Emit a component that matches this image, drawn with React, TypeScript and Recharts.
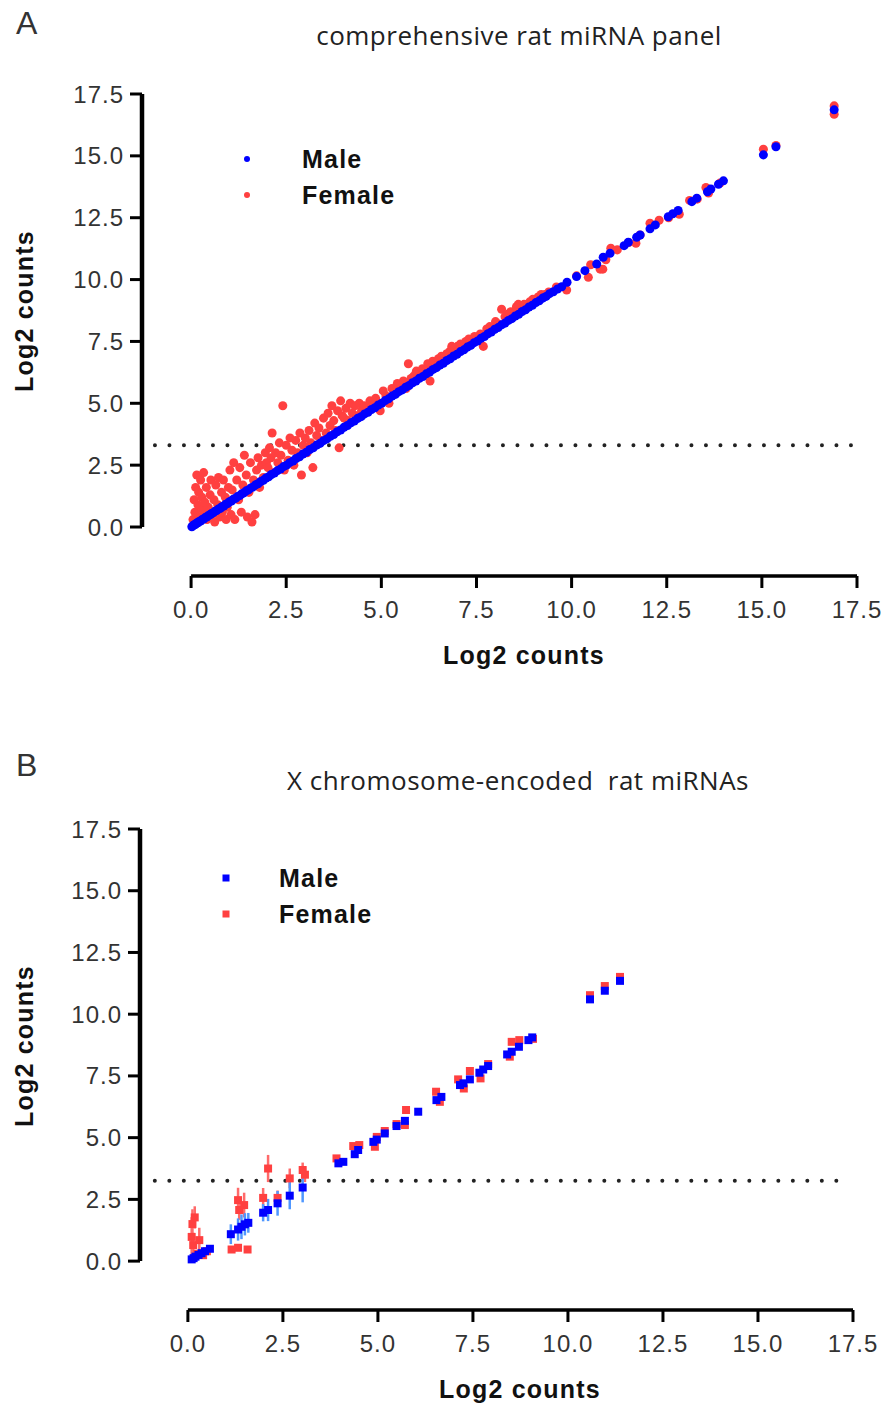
import React from "react";
import { ScatterChart, Scatter, XAxis, YAxis, ZAxis, ReferenceLine, ErrorBar, Legend } from "recharts";

const FONT = "'Liberation Sans', Arial, sans-serif";
const TITLE_FONT = "'Open Sans', 'Noto Sans', sans-serif";
const MALE = "#0000ff";
const FEMALE = "#ff4040";

const axisTicks = [0, 2.5, 5, 7.5, 10, 12.5, 15, 17.5];

// comprehensive panel: [log2 counts (mean), log2 counts (sex)]
const panelAMale: [number, number][] = [
  [0.02, 0.01], [0.05, 0.05], [0.08, 0.09], [0.11, 0.1], [0.14, 0.15], [0.18, 0.17], [0.21, 0.22], [0.25, 0.24],
  [0.29, 0.3], [0.33, 0.32], [0.37, 0.38], [0.41, 0.4], [0.45, 0.46], [0.5, 0.49], [0.54, 0.55], [0.58, 0.57],
  [0.63, 0.64], [0.67, 0.66], [0.72, 0.73], [0.77, 0.76], [0.81, 0.82], [0.86, 0.85], [0.91, 0.92], [0.96, 0.95],
  [1.01, 1.02], [1.06, 1.05], [1.11, 1.12], [1.17, 1.16], [1.22, 1.23], [1.28, 1.27], [1.33, 1.34], [1.39, 1.38],
  [1.45, 1.46], [1.51, 1.5], [1.57, 1.58], [1.63, 1.62], [1.7, 1.71], [1.76, 1.75], [1.83, 1.84], [1.9, 1.89],
  [1.97, 1.98], [2.04, 2.03], [2.11, 2.12], [2.19, 2.18], [2.27, 2.28], [2.35, 2.34], [2.43, 2.44], [2.51, 2.5],
  [2.59, 2.6], [2.68, 2.67], [2.76, 2.77], [2.85, 2.84], [2.94, 2.95], [3.03, 3.02], [3.12, 3.13], [3.21, 3.2],
  [3.3, 3.31], [3.39, 3.38], [3.48, 3.49], [3.57, 3.56], [3.66, 3.67], [3.75, 3.74], [3.84, 3.85], [3.93, 3.92],
  [4.02, 4.03], [4.11, 4.1], [4.2, 4.21], [4.29, 4.28], [4.38, 4.39], [4.47, 4.46], [4.56, 4.57], [4.65, 4.64],
  [4.74, 4.75], [4.83, 4.82], [4.92, 4.93], [5.01, 5.0], [5.1, 5.11], [5.19, 5.18], [5.28, 5.29], [5.37, 5.36],
  [5.46, 5.47], [5.55, 5.54], [5.64, 5.65], [5.73, 5.72], [5.82, 5.83], [5.91, 5.9], [6.0, 6.01], [6.09, 6.08],
  [6.18, 6.19], [6.27, 6.26], [6.36, 6.37], [6.45, 6.44], [6.54, 6.55], [6.63, 6.62], [6.72, 6.73], [6.81, 6.8],
  [6.9, 6.91], [6.99, 6.98], [7.08, 7.09], [7.17, 7.16], [7.26, 7.27], [7.35, 7.34], [7.44, 7.45], [7.53, 7.52],
  [7.62, 7.63], [7.71, 7.7], [7.8, 7.81], [7.89, 7.88], [7.98, 7.99], [8.07, 8.06], [8.16, 8.17], [8.25, 8.24],
  [8.34, 8.35], [8.43, 8.42], [8.52, 8.53], [8.61, 8.6], [8.7, 8.71], [8.79, 8.78], [8.88, 8.89], [8.97, 8.96],
  [9.06, 9.07], [9.15, 9.14], [9.24, 9.25], [9.33, 9.32], [9.42, 9.43], [9.52, 9.51], [9.63, 9.62], [9.74, 9.71],
  [9.88, 9.89], [10.13, 10.12], [10.35, 10.36], [10.66, 10.63], [10.83, 10.9], [11.01, 11.06], [11.38, 11.37],
  [11.49, 11.51], [11.71, 11.71], [11.8, 11.8], [12.06, 12.05], [12.2, 12.21], [12.54, 12.54], [12.66, 12.66],
  [12.8, 12.79], [13.16, 13.15], [13.29, 13.29], [13.57, 13.55], [13.66, 13.66], [13.86, 13.85], [13.99, 13.99],
  [15.04, 15.04], [15.37, 15.37], [16.9, 16.86],
];

const panelAFemale: [number, number][] = [
  [0.05, 0.3], [0.08, 1.1], [0.1, 0.6], [0.12, 1.6], [0.15, 2.1], [0.18, 0.9], [0.2, 1.4], [0.22, 0.4],
  [0.25, 1.9], [0.28, 1.2], [0.3, 0.7], [0.33, 2.2], [0.36, 1.0], [0.4, 1.6], [0.42, 0.3], [0.45, 0.8],
  [0.5, 1.3], [0.52, 1.9], [0.55, 0.5], [0.6, 1.1], [0.62, 0.2], [0.65, 1.7], [0.7, 0.9], [0.72, 2.0],
  [0.75, 0.4], [0.8, 1.4], [0.82, 0.6], [0.85, 1.9], [0.9, 1.2], [0.92, 0.3], [0.95, 0.8], [0.98, 1.6],
  [1.02, 2.3], [1.05, 0.5], [1.08, 1.5], [1.12, 2.6], [1.15, 0.3], [1.2, 1.9], [1.25, 1.1], [1.28, 2.4],
  [1.32, 0.6], [1.36, 1.7], [1.4, 2.9], [1.45, 2.1], [1.48, 0.4], [1.52, 1.4], [1.56, 2.6], [1.6, 0.2],
  [1.64, 1.9], [1.68, 0.5], [1.72, 2.3], [1.76, 2.8], [1.8, 1.6], [1.85, 2.5], [1.9, 2.0], [1.95, 3.0],
  [1.98, 2.6], [2.02, 2.4], [2.06, 3.2], [2.1, 2.8], [2.13, 3.8], [2.18, 2.2], [2.22, 3.0], [2.28, 2.6],
  [2.32, 3.4], [2.36, 2.9], [2.41, 4.9], [2.45, 2.3], [2.5, 3.3], [2.55, 2.7], [2.6, 3.6], [2.65, 3.1],
  [2.7, 2.5], [2.75, 3.5], [2.8, 3.0], [2.86, 3.8], [2.9, 2.1], [2.95, 3.3], [3.0, 3.6], [3.05, 3.0],
  [3.1, 3.9], [3.15, 3.4], [3.2, 2.4], [3.25, 4.2], [3.3, 3.7], [3.36, 4.0], [3.42, 3.5], [3.48, 4.4],
  [3.55, 3.8], [3.6, 4.6], [3.65, 4.1], [3.7, 4.9], [3.75, 4.3], [3.8, 3.9], [3.85, 4.7], [3.89, 3.2],
  [3.93, 5.1], [3.97, 4.5], [4.02, 4.4], [4.07, 4.8], [4.12, 4.3], [4.18, 5.0], [4.24, 4.6], [4.3, 4.9],
  [4.36, 4.5], [4.42, 5.0], [4.48, 4.7], [4.55, 4.9], [4.62, 4.8], [4.7, 5.1], [4.78, 4.9], [4.85, 5.2],
  [4.92, 5.0], [4.97, 4.7], [5.05, 5.5], [5.12, 5.3], [5.2, 5.0], [5.28, 5.6], [5.35, 5.5], [5.42, 5.8],
  [5.5, 5.7], [5.58, 5.9], [5.65, 5.6], [5.71, 6.6], [5.78, 6.0], [5.85, 6.1], [5.92, 6.3], [6.0, 6.2],
  [6.08, 6.4], [6.15, 6.3], [6.22, 6.6], [6.28, 5.9], [6.35, 6.7], [6.42, 6.6], [6.5, 6.8], [6.58, 6.9],
  [6.65, 6.8], [6.72, 7.0], [6.8, 7.1], [6.85, 7.3], [6.92, 7.2], [7.0, 7.3], [7.08, 7.4], [7.15, 7.3],
  [7.22, 7.5], [7.3, 7.6], [7.38, 7.5], [7.45, 7.7], [7.52, 7.6], [7.6, 7.8], [7.68, 7.3], [7.77, 8.0],
  [7.85, 8.1], [7.92, 8.0], [8.0, 8.3], [8.08, 8.2], [8.16, 8.8], [8.25, 8.5], [8.32, 8.6], [8.4, 8.7],
  [8.48, 8.6], [8.55, 8.9], [8.6, 9.0], [8.68, 8.8], [8.75, 9.0], [8.82, 8.9], [8.9, 9.1], [8.98, 9.2],
  [9.05, 9.1], [9.12, 9.3], [9.2, 9.4], [9.3, 9.4], [9.4, 9.5], [9.6, 9.7], [9.87, 9.58], [10.13, 10.15],
  [10.44, 10.09], [10.5, 10.6], [10.75, 10.42], [10.82, 10.42], [10.9, 10.8], [11.03, 11.27], [11.2, 11.2],
  [11.5, 11.5], [11.69, 11.47], [11.8, 11.8], [12.06, 12.28], [12.3, 12.4], [12.55, 12.5], [12.83, 12.64],
  [13.1, 13.2], [13.3, 13.25], [13.53, 13.72], [13.6, 13.5], [13.9, 13.9], [15.04, 15.27], [15.37, 15.42],
  [16.9, 17.02], [16.9, 16.68],
];

// X chromosome-encoded miRNAs: [mean, sex mean, sd]
const panelBMale: [number, number, number][] = [
  [0.1, 0.07, 0.05], [0.15, 0.12, 0.05], [0.2, 0.18, 0.06], [0.28, 0.25, 0.08], [0.36, 0.32, 0.1],
  [0.45, 0.4, 0.1], [0.58, 0.5, 0.15], [1.13, 1.09, 0.4], [1.32, 1.28, 0.45], [1.41, 1.39, 0.5],
  [1.5, 1.49, 0.45], [1.59, 1.55, 0.4], [1.98, 1.96, 0.35], [2.11, 2.07, 0.45], [2.36, 2.34, 0.5],
  [2.68, 2.65, 0.55], [3.02, 2.98, 0.6], [3.96, 3.96, 0.1], [4.09, 4.02, 0.1], [4.39, 4.33, 0.1],
  [4.48, 4.5, 0.1], [4.88, 4.83, 0.1], [4.97, 4.92, 0.08], [5.18, 5.17, 0.08], [5.49, 5.47, 0.08],
  [5.71, 5.68, 0.08], [6.06, 6.05, 0.06], [6.54, 6.52, 0.08], [6.67, 6.65, 0.08], [7.16, 7.13, 0.06],
  [7.25, 7.2, 0.06], [7.42, 7.36, 0.06], [7.67, 7.63, 0.06], [7.77, 7.76, 0.06], [7.9, 7.9, 0.05],
  [8.4, 8.37, 0.05], [8.52, 8.48, 0.05], [8.71, 8.68, 0.05], [8.96, 8.95, 0.05], [9.06, 9.06, 0.05],
  [10.58, 10.6, 0.05], [10.97, 10.95, 0.05], [11.37, 11.35, 0.05],
];

const panelBFemale: [number, number, number][] = [
  [0.1, 0.98, 0.8], [0.12, 1.5, 0.6], [0.18, 1.77, 0.45], [0.14, 0.65, 0.5], [0.3, 0.85, 0.5],
  [0.4, 0.24, 0.1], [0.25, 0.3, 0.1], [0.5, 0.4, 0.1], [1.15, 0.47, 0.1], [1.32, 0.54, 0.1],
  [1.57, 0.47, 0.1], [1.32, 2.47, 0.5], [1.48, 2.27, 0.5], [1.35, 2.07, 0.4], [1.98, 2.56, 0.4],
  [2.11, 3.75, 0.55], [2.36, 2.56, 0.3], [2.68, 3.35, 0.4], [3.02, 3.69, 0.3], [3.08, 3.5, 0.3],
  [3.91, 4.16, 0.1], [4.35, 4.66, 0.1], [4.51, 4.7, 0.1], [4.92, 4.63, 0.1], [4.97, 5.03, 0.1],
  [5.18, 5.27, 0.08], [5.49, 5.55, 0.08], [5.74, 6.12, 0.1], [5.71, 5.51, 0.08], [6.53, 6.86, 0.1],
  [6.63, 6.45, 0.1], [7.11, 7.36, 0.1], [7.26, 6.99, 0.1], [7.42, 7.7, 0.1], [7.7, 7.4, 0.1],
  [7.9, 7.98, 0.08], [8.47, 8.28, 0.08], [8.52, 8.88, 0.08], [8.72, 8.95, 0.08], [9.08, 9.0, 0.08],
  [10.58, 10.77, 0.05], [10.97, 11.14, 0.05], [11.37, 11.51, 0.05],
];

const detectionThresholdA = 3.3;
const detectionThresholdB = 3.25;

const toPoints = (rows: number[][]) => rows.map(([x, y, e]) => ({ x, y, e }));

const tickStyle = { fill: "#333", fontSize: 24, fontFamily: FONT, letterSpacing: 1 };
const titleStyle = { fill: "#111", fontSize: 25, fontWeight: 700, fontFamily: FONT, letterSpacing: 1.2 };

type LegendProps = { shape: "circle" | "square"; gap: number };

const SexLegend = ({ shape, gap }: LegendProps) => (
  <div style={{ fontFamily: FONT, fontWeight: 700, fontSize: 25, color: "#111", letterSpacing: 1.2 }}>
    {[
      { name: "Male", color: MALE },
      { name: "Female", color: FEMALE },
    ].map((s) => (
      <div key={s.name} style={{ display: "flex", alignItems: "center", height: 36, lineHeight: "36px" }}>
        <svg width={14} height={14}>
          {shape === "circle" ? (
            <circle cx={7} cy={7} r={3} fill={s.color} />
          ) : (
            <rect x={3.5} y={3.5} width={7} height={7} fill={s.color} />
          )}
        </svg>
        <span style={{ marginLeft: gap }}>{s.name}</span>
      </div>
    ))}
  </div>
);

const fmt = (v: number) => v.toFixed(1);

const Heading = ({ text, left, top }: { text: string; left: number; top: number }) => (
  <div
    style={{
      position: "absolute",
      left,
      top,
      transform: "translateX(-50%)",
      fontFamily: TITLE_FONT,
      fontSize: 26,
      letterSpacing: 0.5,
      lineHeight: 1,
      color: "#222",
      whiteSpace: "pre",
    }}
  >
    {text}
  </div>
);

const PanelLetter = ({ text, top }: { text: string; top: number }) => (
  <div style={{ position: "absolute", left: 16, top, fontFamily: FONT, fontSize: 32, lineHeight: 1, color: "#333" }}>
    {text}
  </div>
);

export default function App() {
  const aMale = toPoints(panelAMale);
  const aFemale = toPoints(panelAFemale);
  const bMale = toPoints(panelBMale);
  const bFemale = toPoints(panelBFemale);

  return (
    <div style={{ position: "absolute", left: 0, top: 0, width: 885, height: 1407, background: "#fff" }}>
      <PanelLetter text="A" top={7} />
      <Heading text="comprehensive rat miRNA panel" left={519} top={22} />
      <PanelLetter text="B" top={749} />
      <Heading text="X chromosome-encoded  rat miRNAs" left={518} top={767} />

      {/* panel A */}
      <div style={{ position: "absolute", left: 0, top: 0 }}>
        <ScatterChart width={885} height={700} margin={{ top: 94, right: 28, bottom: 64, left: 82 }}>
          <XAxis
            type="number"
            dataKey="x"
            domain={[-1.29, 17.5]}
            allowDataOverflow
            ticks={axisTicks}
            interval={0}
            tickFormatter={fmt}
            axisLine={false}
            tickLine={{ stroke: "#000", strokeWidth: 3 }}
            tickSize={12}
            tickMargin={13}
            height={60}
            tick={tickStyle}
            label={{ value: "Log2 counts", position: "center", dx: 24.5, dy: 49, style: titleStyle }}
          />
          <YAxis
            type="number"
            dataKey="y"
            domain={[-1.98, 17.5]}
            allowDataOverflow
            ticks={axisTicks}
            interval={0}
            tickFormatter={fmt}
            axisLine={false}
            tickLine={{ stroke: "#000", strokeWidth: 3 }}
            tickSize={12}
            tickMargin={6}
            width={60}
            tick={tickStyle}
            label={{ value: "Log2 counts", position: "center", angle: -90, dx: -88, dy: -24, style: titleStyle }}
          />
          <ZAxis range={[45, 45]} />
          <ReferenceLine segment={[{ x: 0, y: -1.98 }, { x: 17.5, y: -1.98 }]} stroke="#000" strokeWidth={3.5} ifOverflow="visible" />
          <ReferenceLine segment={[{ x: -1.29, y: 0 }, { x: -1.29, y: 17.5 }]} stroke="#000" strokeWidth={4.5} ifOverflow="visible" />
          <ReferenceLine
            segment={[{ x: -0.95, y: detectionThresholdA }, { x: 17.45, y: detectionThresholdA }]}
            stroke="#222"
            strokeWidth={4}
            strokeDasharray="0 14.5"
            strokeLinecap="round"
            ifOverflow="visible"
          />
          <Scatter name="Female" data={aFemale} fill={FEMALE} isAnimationActive={false} />
          <Scatter name="Male" data={aMale} fill={MALE} isAnimationActive={false} />
          <Legend
            layout="vertical"
            align="center"
            verticalAlign="middle"
            wrapperStyle={{ left: 240, top: 141, width: 220 }}
            content={() => <SexLegend shape="circle" gap={48} />}
          />
        </ScatterChart>
      </div>

      {/* panel B */}
      <div style={{ position: "absolute", left: 0, top: 700 }}>
        <ScatterChart width={885} height={707} margin={{ top: 129, right: 32, bottom: 37, left: 80 }}>
          <XAxis
            type="number"
            dataKey="x"
            domain={[-1.26, 17.5]}
            allowDataOverflow
            ticks={axisTicks}
            interval={0}
            tickFormatter={fmt}
            axisLine={false}
            tickLine={{ stroke: "#000", strokeWidth: 3 }}
            tickSize={12}
            tickMargin={13}
            height={60}
            tick={tickStyle}
            label={{ value: "Log2 counts", position: "center", dx: 23.5, dy: 49, style: titleStyle }}
          />
          <YAxis
            type="number"
            dataKey="y"
            domain={[-1.98, 17.5]}
            allowDataOverflow
            ticks={axisTicks}
            interval={0}
            tickFormatter={fmt}
            axisLine={false}
            tickLine={{ stroke: "#000", strokeWidth: 3 }}
            tickSize={12}
            tickMargin={6}
            width={60}
            tick={tickStyle}
            label={{ value: "Log2 counts", position: "center", angle: -90, dx: -86, dy: -23.5, style: titleStyle }}
          />
          <ZAxis range={[56, 56]} />
          <ReferenceLine segment={[{ x: 0, y: -1.98 }, { x: 17.5, y: -1.98 }]} stroke="#000" strokeWidth={3.5} ifOverflow="visible" />
          <ReferenceLine segment={[{ x: -1.26, y: 0 }, { x: -1.26, y: 17.5 }]} stroke="#000" strokeWidth={4.5} ifOverflow="visible" />
          <ReferenceLine
            segment={[{ x: -0.87, y: detectionThresholdB }, { x: 17.42, y: detectionThresholdB }]}
            stroke="#222"
            strokeWidth={4}
            strokeDasharray="0 14.5"
            strokeLinecap="round"
            ifOverflow="visible"
          />
          <Scatter name="Female" data={bFemale} fill={FEMALE} shape="square" isAnimationActive={false}>
            <ErrorBar dataKey="e" direction="y" width={0} stroke="#ff6a6a" strokeWidth={2.5} isAnimationActive={false} />
          </Scatter>
          <Scatter name="Male" data={bMale} fill={MALE} shape="square" isAnimationActive={false}>
            <ErrorBar dataKey="e" direction="y" width={0} stroke="#4f97ff" strokeWidth={2.5} isAnimationActive={false} />
          </Scatter>
          <Legend
            layout="vertical"
            align="center"
            verticalAlign="middle"
            wrapperStyle={{ left: 219, top: 160, width: 220 }}
            content={() => <SexLegend shape="square" gap={46} />}
          />
        </ScatterChart>
      </div>
    </div>
  );
}
